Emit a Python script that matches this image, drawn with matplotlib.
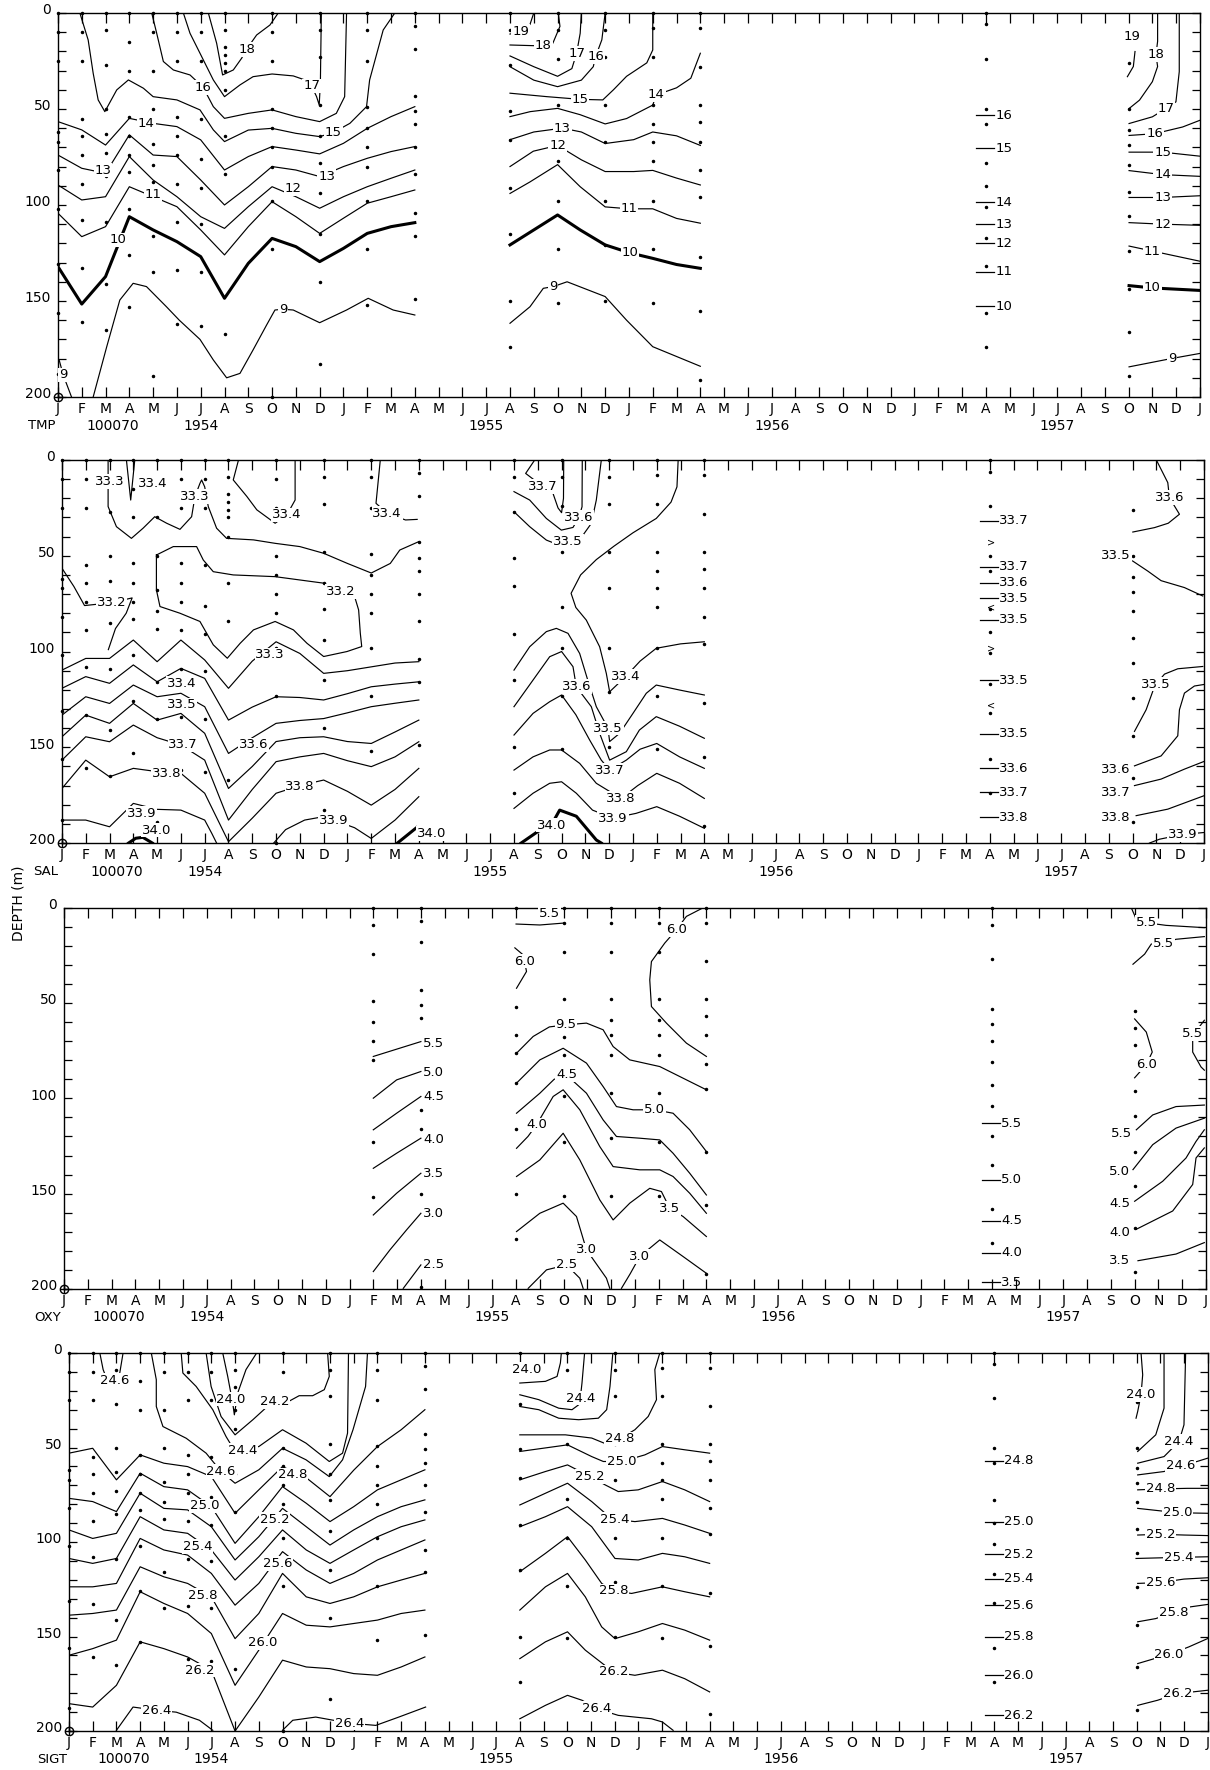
import matplotlib.pyplot as plt
from matplotlib.transforms import ScaledTranslation

plt.rcParams['font.family'] = ['DejaVu Sans']

MON = list('JFMAMJJASOND') * 4 + ['J']
YEARS = ['1954', '1955', '1956', '1957']
STATION = '100070'
m54 = list(range(16))  # Jan 1954 .. Apr 1955, month index

# sample depths at each station (month index -> depths)
st_months = [0, 1, 2, 3, 4, 5, 6, 7, 9, 11, 13, 15, 19, 21, 23, 25, 27, 39, 45]
st_depths = [
    [0, 10, 25, 62, 67, 82, 102, 131, 156, 188],
    [0, 10, 25, 55, 64, 74, 89, 108, 133, 161],
    [0, 9, 27, 50, 63, 73, 85, 109, 141, 165],
    [0, 15, 30, 54, 64, 74, 83, 102, 126, 153],
    [0, 10, 30, 50, 68, 79, 88, 116, 135, 189],
    [0, 10, 25, 54, 64, 74, 89, 109, 134, 162],
    [0, 10, 25, 55, 76, 91, 110, 135, 163],
    [0, 9, 18, 22, 26, 30, 40, 64, 84, 167],
    [0, 10, 25, 50, 60, 70, 80, 98, 123, 200],
    [0, 9, 23, 48, 64, 78, 94, 115, 140, 183],
    [0, 9, 25, 49, 60, 70, 80, 98, 123, 152],
    [0, 7, 19, 43, 51, 58, 70, 84, 104, 116, 149],
    [0, 9, 27, 51, 66, 91, 115, 150, 174],
    [0, 9, 24, 48, 77, 98, 123, 151],
    [0, 9, 23, 48, 67, 98, 121, 150],
    [0, 8, 23, 48, 58, 67, 77, 98, 123, 151],
    [0, 8, 28, 48, 57, 67, 82, 96, 127, 155, 191],
    [0, 6, 24, 50, 58, 78, 90, 101, 117, 132, 156, 174],
    [26, 50, 61, 69, 79, 93, 106, 124, 144, 166, 189],
]
oxy_months = [13, 15, 19, 21, 23, 25, 27, 39, 45]
oxy_depths = [
    [0, 9, 24, 49, 60, 70, 80, 123, 152],
    [0, 7, 18, 43, 51, 58, 106, 116, 150, 199],
    [0, 52, 67, 76, 92, 116, 150, 174],
    [0, 8, 23, 48, 68, 77, 99, 123, 151],
    [0, 8, 23, 48, 59, 67, 77, 97, 121, 151],
    [0, 8, 23, 48, 59, 67, 77, 97, 123, 151],
    [0, 8, 28, 48, 57, 67, 82, 95, 128, 156, 192],
    [0, 9, 27, 53, 61, 70, 81, 93, 104, 120, 135, 158, 176],
    [54, 63, 72, 96, 109, 128, 146, 168, 191],
]

# ---------------- TMP ----------------
tmp54_14 = [56.6, 60.9, 68.8, 54.9, 57.5, 59.2, 66.1, 81.8, 74.8, 69.6, 71.4, 73.4, 67.9, 60.1, 54.0, 48.8]
tmp54_13 = [74.0, 80.9, 83.5, 63.5, 74.0, 74.8, 87.0, 100.0, 90.5, 80.0, 81.8, 85.2, 80.0, 75.7, 72.2, 69.6]
tmp54_12 = [89.6, 97.4, 95.7, 74.8, 87.0, 95.7, 106.1, 112.2, 100.9, 90.5, 95.7, 101.7, 95.7, 90.5, 86.1, 81.8]
tmp54_11 = [104.3, 116.5, 111.3, 90.5, 95.7, 100.9, 113.0, 126.0, 111.3, 98.3, 106.1, 114.8, 106.9, 99.1, 95.7, 92.2]
tmp54_10 = [132.1, 151.6, 137.3, 106.1, 113.0, 119.1, 126.9, 148.6, 130.4, 117.4, 121.7, 129.5, 122.6, 114.8, 111.3, 109.2]
tmp54_15 = [(0.92, 0), (1.27, 14.1), (1.48, 31.4), (1.69, 45.3), (1.97, 51.4), (2.47, 40.1), (2.96, 34.9),
            (3.59, 39.2), (4.0, 43.6), (5.0, 45.3), (5.97, 50.5), (6.53, 60.9), (7.0, 67.0), (8.0, 61.0),
            (9.0, 60.1), (10.0, 62.7), (11.0, 64.4), (11.57, 62.3), (12.27, 57.5), (12.97, 48.8),
            (13.1, 34.9), (13.67, 8.9), (14.16, 0)]
tmp54_16 = [(3.94, 0), (4.15, 10.6), (4.43, 25.3), (4.85, 29.7), (5.55, 32.3), (6.1, 38.7), (6.53, 48.8),
            (7.0, 54.9), (8.0, 52.3), (9.0, 50.5), (10.0, 54.0), (11.0, 56.6), (11.7, 52.3), (12.05, 43.6),
            (12.13, 0)]
tmp54_17 = [(5.27, 0), (5.55, 10.6), (5.97, 21.0), (6.53, 34.9), (7.0, 43.6), (7.65, 37.5), (8.2, 33.2),
            (9.0, 31.8), (9.89, 32.8), (10.38, 34.9), (10.66, 38.0), (10.87, 43.6), (10.98, 47.9),
            (11.03, 36.6), (11.07, 0)]
tmp54_18 = [(6.32, 0), (6.67, 15.8), (6.92, 32.3), (7.37, 29.7), (7.72, 23.6), (7.93, 18.9), (8.35, 11.5),
            (8.91, 6.3), (9.26, 0)]
tmp54_9 = [(1.48, 200), (2.05, 173.8), (2.6, 149.5), (3.16, 140.8), (3.72, 142.5), (4.56, 153.0),
           (5.1, 160.0), (5.97, 170.0), (6.53, 180.7), (7.09, 190.0), (7.65, 187.7), (8.2, 175.5),
           (8.77, 162.5), (9.12, 154.7), (9.46, 154.3), (9.89, 154.7), (11.0, 161.3), (12.13, 154.7),
           (13.04, 148.6), (14.09, 154.7), (15.0, 157.3)]
tmp54_9b = [(0.05, 180.7), (0.22, 188.5), (0.57, 200)]

tmp55_19 = [(19.0, 11.0), (19.45, 9.7), (19.84, 6.0), (20.0, 0)]
tmp55_18 = [(19.0, 16.7), (20.4, 17.2), (20.8, 15.8), (21.1, 7.0), (21.03, 0)]
tmp55_17 = [(19.0, 22.4), (20.0, 28.0), (21.0, 33.0), (21.6, 29.0), (21.8, 21.0), (21.95, 10.6), (22.0, 0)]
tmp55_16 = [(19.0, 28.0), (20.0, 35.0), (21.0, 38.4), (22.0, 35.0), (22.5, 28.0), (22.6, 22.7), (22.86, 14.0), (23.0, 0)]
tmp55_15 = [(19.0, 41.8), (20.55, 43.6), (21.95, 45.0), (22.9, 45.3), (23.35, 40.0), (23.9, 33.0),
            (24.75, 26.0), (25.0, 19.3), (25.0, 0)]
tmp55_14 = [(19.0, 54.0), (19.85, 51.4), (21.0, 49.7), (21.95, 53.0), (23.0, 57.8), (23.9, 55.0),
            (25.0, 48.0), (25.15, 42.7), (26.0, 39.0), (26.6, 34.0), (27.0, 21.0)]
tmp55_13 = [(19, 66), (20, 62), (21.2, 60), (22, 62), (23, 68), (24.2, 66), (25, 62), (26, 64), (27, 69)]
tmp55_12 = [(19, 80), (19.98, 72), (21, 69), (22, 76.5), (23, 82.6), (24.2, 82.6), (25, 82), (26, 86), (27, 89.6)]
tmp55_11 = [(19, 94), (19.84, 88), (21, 79), (21.95, 90.5), (23, 101), (24, 102), (25, 102), (26, 107), (27, 109.5)]
tmp55_10 = [(19, 120.8), (21, 105.2), (21.95, 113), (23, 120.8), (24.05, 125), (25, 127.8), (26, 131), (27, 133)]
tmp55_9 = [(19, 161.6), (19.84, 153), (20.4, 143.4), (20.82, 142.5), (21.4, 140), (23, 147.7), (23.9, 160),
           (25, 173.8), (27, 184)]

tmp57_short = [53.3, 70.4, 98.7, 110.0, 120.0, 134.8, 152.8]
tmp57_short_lab = ['16', '15', '14', '13', '12', '11', '10']
tmp57_19 = [(44.95, 33.2), (45.2, 27.9), (45.27, 20.1)]
tmp57_18 = [(45.02, 49.8), (45.46, 45.4), (46.0, 35.8), (46.22, 27.9), (46.15, 21.8), (46.22, 14.8), (46.22, 0)]
tmp57_17 = [(45.02, 57.6), (46.0, 54.1), (46.57, 49.8), (46.99, 46.3), (47.13, 30.6), (47.13, 0)]
tmp57_16 = [(45.02, 63.8), (46.09, 62.9), (47.27, 59.4), (48, 55.9)]
tmp57_15 = [(45.02, 72.5), (46.43, 72.5), (48, 74.6)]
tmp57_14 = [(45.02, 82.1), (46.43, 84.2), (48, 85.1)]
tmp57_13 = [(45.02, 96.1), (46.43, 96.1), (48, 95.2)]
tmp57_12 = [(45.02, 109.2), (46.43, 110.0), (48, 110.6)]
tmp57_11 = [(45.02, 121.4), (46.0, 124.0), (48, 129.3)]
tmp57_10 = [(45.02, 142.0), (46.0, 143.2), (48, 144.5)]
tmp57_9 = [(45.02, 184.3), (46.83, 179.9), (48, 177.3)]

tmp_labels = [('18', 7.93, 18.9), ('17', 10.66, 38.0), ('16', 6.1, 38.7), ('15', 11.57, 62.3),
              ('14', 3.72, 57.5), ('13', 1.9, 81.8), ('13', 11.29, 85.2), ('12', 9.89, 91.3),
              ('11', 4.0, 94.8), ('10', 2.53, 118.2), ('9', 9.46, 154.3), ('9', 0.22, 188.5),
              ('19', 19.45, 9.7), ('18', 20.4, 17.2), ('17', 21.8, 21.0), ('16', 22.6, 22.7),
              ('15', 21.95, 45.0), ('14', 25.15, 42.7), ('13', 21.2, 60.0), ('12', 21.0, 69.0),
              ('11', 24.0, 102.0), ('10', 24.05, 125.0), ('9', 20.82, 142.5),
              ('19', 45.13, 12.2), ('18', 46.15, 21.8), ('17', 46.57, 49.8), ('16', 46.09, 62.9),
              ('15', 46.43, 72.5), ('14', 46.43, 84.2), ('13', 46.43, 96.1), ('12', 46.43, 110.0),
              ('11', 46.0, 124.0), ('10', 46.0, 143.2), ('9', 46.83, 179.9)]

# ---------------- SAL ----------------
sal54_333 = [109.7, 103.6, 103.6, 94.0, 105.3, 94.0, 104.4, 119.2, 105.0, 94.9, 101.0, 111.4, 110.0, 108.0, 106.0, 105.3]
sal54_334 = [119.2, 113.1, 116.6, 107.0, 115.8, 108.8, 114.0, 135.8, 129.0, 123.6, 124.0, 125.3, 122.0, 118.4, 117.0, 115.8]
sal54_335 = [133.2, 123.6, 127.1, 117.5, 123.6, 121.8, 128.8, 153.2, 145.0, 137.5, 136.0, 135.0, 132.0, 128.8, 127.0, 125.3]
sal54_336 = [144.5, 133.2, 137.5, 127.1, 135.8, 132.3, 142.7, 171.5, 160.0, 147.0, 145.0, 144.5, 147.0, 148.0, 142.0, 135.8]
sal54_337 = [156.7, 144.5, 147.1, 138.4, 145.0, 148.8, 156.7, 188.0, 172.0, 157.5, 155.0, 153.2, 157.0, 160.1, 155.0, 147.1]
sal54_338 = [171.5, 156.7, 165.4, 161.0, 162.7, 163.6, 174.0, 199.3, 187.0, 174.0, 170.0, 167.1, 173.0, 180.2, 172.0, 161.0]
sal54_339a = [(0, 188), (1, 188), (2, 191.5), (3, 179.3), (4, 182.4), (5, 182.8), (6, 188), (6.3, 195), (6.5, 200)]
sal54_339b = [(8.9, 200), (9.4, 193), (10.2, 188), (11.0, 186.2), (11.42, 188), (12.3, 192), (13.0, 197.6),
              (14.0, 188), (15.0, 175.8)]
sal54_340a = [(2.8, 200), (3.1, 197.5), (3.4, 197), (3.8, 200)]
sal54_340b = [(14.1, 200), (14.5, 196), (14.9, 192)]
sal54_332a = [(0, 56.5), (0.5, 66), (0.95, 76), (2.08, 74.5), (2.95, 72), (2.7, 80), (2.25, 88), (1.95, 99)]
sal54_332b = [(3.97, 49.6), (4.68, 45.2), (5.66, 45.2), (5.94, 52.2), (6.36, 58.3), (7.2, 60.0), (8.96, 60.9),
              (11.0, 64.3), (11.7, 68.7), (12.26, 69.6), (12.47, 78.3), (12.54, 90.4), (12.6, 97.4),
              (11.98, 100.0), (11.0, 102.6), (10.3, 95.7), (9.73, 88.7), (8.96, 84.3), (8.05, 88.7),
              (7.49, 95.7), (6.95, 103.5), (6.36, 96.5), (5.8, 84.3), (4.96, 80.0), (4.12, 76.5),
              (3.97, 67.8), (3.97, 49.6)]
sal54_333u = [(1.94, 0), (1.94, 12), (1.94, 24.3), (2.29, 34.8), (2.92, 40.9), (3.41, 35.6), (3.9, 29.6),
              (4.4, 33.0), (4.96, 36.2), (5.45, 29.6), (5.59, 19.1), (5.8, 12.2), (5.87, 10.4), (6.0, 14.0),
              (6.15, 24.3), (6.5, 35.6), (6.92, 40.9), (8.05, 41.7), (8.96, 43.5), (10.0, 45.2), (11.0, 48.7),
              (12.0, 54.0), (13.0, 59.0), (13.8, 54.0), (14.2, 47.0), (15.0, 42.6)]
sal54_334v = [(2.71, 0), (2.89, 20.9), (3.06, 0)]
sal54_334u = [(7.42, 0), (7.2, 10.4), (7.77, 19.0), (8.19, 26.0), (8.96, 33.0), (9.45, 28.7), (9.8, 20.9), (9.8, 0)]
sal54_334f = [(13.38, 0), (13.2, 22.6), (13.67, 27.8), (14.44, 31.3), (14.93, 31.0)]

sal55_337 = [(19.87, 0), (19.49, 7), (20.22, 13.9), (20.6, 16), (20.85, 25), (21.0, 27.5), (21.08, 20), (21.09, 0)]
sal55_336 = [(19, 16.5), (19.66, 20.9), (20.36, 30.5), (20.99, 36.6), (21.48, 35.2), (21.73, 29.9),
             (21.86, 24.4), (21.87, 0)]
sal55_335 = [(19, 27), (19.66, 34.8), (20.36, 41.8), (20.99, 44.9), (21.27, 42.6), (21.9, 39.2),
             (22.25, 33.1), (22.46, 20.9), (22.67, 0)]
sal55_334 = [(25.9, 0), (25.85, 14), (25.6, 22), (24.98, 30.5), (24.0, 38), (23.2, 45), (22.46, 52),
             (21.8, 60), (21.4, 69.6), (21.6, 77), (22.04, 83.6), (22.6, 97.5), (22.88, 111.4), (23.02, 121),
             (23.7, 113), (24.3, 105), (24.98, 98.3), (26.0, 96), (27.0, 94.9)]
sal55_335b = [(19, 109.7), (19.66, 97.5), (20.36, 89.6), (20.78, 87.9), (21.27, 90.5), (21.76, 101),
              (22.1, 114.9), (22.46, 128.8), (22.95, 140), (23.02, 147), (23.44, 142.7), (24, 132.3),
              (24.56, 121.8), (24.98, 117.5), (25.96, 120.1), (27, 122.7)]
sal55_336b = [(19, 128.8), (19.8, 114.9), (20.5, 102.7), (21, 100), (21.48, 107.9), (21.62, 118.4),
              (22.25, 128.8), (22.6, 142.7), (23.02, 156.7), (23.72, 152.3), (24.27, 141), (24.98, 134),
              (25.96, 139), (27, 145.3)]
sal55_337b = [(19, 143.6), (19.8, 132.3), (20.5, 126.2), (21, 122.7), (21.6, 133), (22.18, 146.2),
              (22.67, 156.7), (23.02, 161.9), (23.72, 156.7), (24.3, 151), (25, 148), (25.96, 155), (27, 161)]
sal55_338 = [(19, 161.9), (19.8, 155), (20.5, 151.4), (21, 151.4), (21.76, 158.4), (22.46, 168.8),
             (23.5, 176.7), (24.2, 170), (25, 163.6), (25.96, 168.8), (27, 176.7)]
sal55_339 = [(19, 181.9), (19.8, 174), (20.5, 168.8), (21, 168), (21.62, 174), (22.3, 182.8), (23.16, 187),
             (24.13, 184.5), (25, 181), (25.96, 186), (27, 192.3)]
sal55_340 = [(19.3, 200), (20.0, 194), (20.57, 190.6), (20.92, 182.8), (21.62, 186), (22.46, 198.4), (22.67, 200)]

sal57_short = [31.8, 55.7, 64.0, 72.3, 83.5, 115.0, 143.0, 161.0, 173.6, 186.6]
sal57_short_lab = ['33.7', '33.7', '33.6', '33.5', '33.5', '33.5', '33.5', '33.6', '33.7', '33.8']
sal57_marks = [('>', 43.1), ('<', 77.0), ('>', 98.4), ('<', 128.3)]
sal57_336 = [(46, 0), (46.48, 11.8), (46.55, 19.7), (46.97, 28.3), (46.5, 33), (45.92, 35.3), (45.01, 37.6)]
sal57_335a = [(45.0, 52.7), (45.64, 58), (46.2, 63), (47.18, 66.6), (47.95, 71)]
sal57_335b = [(47.95, 107.8), (46.9, 109), (46.34, 111.8), (45.99, 117), (45.92, 118.3), (45.57, 130.4), (45.08, 141.7)]
sal57_336b = [(45.08, 159.7), (46.2, 154.5), (46.9, 144), (46.97, 130.4), (47.18, 121.7), (47.6, 118), (48, 117.2)]
sal57_337 = [(45.08, 170), (46.2, 166.6), (47.18, 161.4), (48, 157.4)]
sal57_338 = [(45.15, 185.7), (46.48, 182.3), (48, 175.3)]
sal57_339 = [(45.71, 200), (46.13, 198), (47.11, 195.5), (48, 194.5)]

sal_labels = [('33.3', 2.0, 11.3), ('33.4', 3.83, 12.2), ('33.3', 5.59, 19.1), ('33.4', 9.45, 28.7),
              ('33.4', 13.67, 27.8), ('33.2', 2.08, 74.5), ('33.2', 11.7, 68.8), ('33.3', 8.75, 101.8),
              ('33.4', 5.03, 116.6), ('33.5', 5.03, 127.9), ('33.7', 5.1, 148.8), ('33.6', 8.05, 148.8),
              ('33.8', 4.4, 163.6), ('33.8', 10.01, 170.6), ('33.9', 3.34, 184.5), ('33.9', 11.42, 188.0),
              ('34.0', 3.97, 193.2), ('34.0', 15.55, 195.0),
              ('33.7', 20.22, 13.9), ('33.6', 21.73, 29.9), ('33.5', 21.27, 42.6), ('33.4', 23.7, 113.0),
              ('33.6', 21.62, 118.4), ('33.5', 22.95, 140.0), ('33.7', 23.02, 161.9), ('33.8', 23.5, 176.7),
              ('33.9', 23.16, 187.0), ('34.0', 20.57, 190.6),
              ('33.6', 46.55, 19.7), ('33.5', 44.3, 50.0), ('33.5', 45.99, 117.0), ('33.6', 44.3, 161.4),
              ('33.7', 44.3, 173.6), ('33.8', 44.3, 186.6), ('33.9', 47.11, 195.5)]

# ---------------- OXY ----------------
oxy55_short = {'5.5': [(13, 78), (15, 70.2)],
               '5.0': [(13, 99.9), (13.98, 90.3), (15, 85.9)],
               '4.5': [(13, 116.5), (13.98, 107.8), (15, 99)],
               '4.0': [(13, 136.7), (13.98, 128.8), (15, 120.9)],
               '3.5': [(13, 161.2), (13.98, 149.8), (15, 139.3)],
               '3.0': [(13, 190.9), (13.7, 179.5), (14.4, 169), (15, 160.3)],
               '2.5': [(14.26, 199.7), (15, 187.4)]}
oxy55_short_lab = [('5.5', 71), ('5.0', 86.4), ('4.5', 99), ('4.0', 121.4), ('3.5', 139.3), ('3.0', 160.3), ('2.5', 187.4)]
oxy55_55a = [(19, 8.5), (20, 9), (21, 8)]
oxy55_60a = [(18.95, 21), (19.3, 24.7), (19.44, 33.4), (19.02, 42.2)]
oxy55_60b = [(26.86, 0), (26.16, 4.5), (25.74, 11.5), (25.25, 18.5), (24.69, 28.2), (24.62, 37.8),
             (24.69, 51.8), (25.32, 60.5), (26.16, 71), (27, 78)]
oxy55_55 = [(19.02, 76.3), (19.72, 67.5), (20.4, 62.5), (21.1, 61.4), (21.96, 60.5), (22.66, 64),
            (23.08, 72.8), (23.78, 79.8), (25.04, 83.3), (26.02, 89.4), (27, 95.5)]
oxy55_50 = [(19.02, 92), (20, 79.8), (20.98, 73.7), (21.96, 81.5), (22.66, 93.8), (23.22, 104.3),
            (23.92, 106), (24.83, 106), (25.6, 107.8), (26.3, 116.5), (27, 127.9)]
oxy55_45 = [(19.02, 107.8), (20, 97.3), (20.6, 90), (21.12, 87.7), (21.96, 97.3), (22.66, 111.3),
            (23.22, 120), (24.2, 120.9), (25.04, 121.8), (25.6, 128.8), (26.3, 139.3), (27, 150.7)]
oxy55_40 = [(19.02, 126.2), (19.5, 120), (19.86, 113.9), (20.56, 99), (20.98, 95.5), (21.68, 106),
            (22.52, 125.3), (23.08, 135.8), (24.2, 137.5), (25.04, 137.5), (25.6, 141), (26.3, 149.8), (27, 160.3)]
oxy55_35 = [(19.02, 141), (20, 132.3), (20.98, 118.3), (21.68, 132.3), (22.52, 153.3), (23.08, 163.8),
            (23.78, 155), (24.62, 147.2), (25.11, 148.9), (25.46, 157.7), (26.02, 162), (27, 172.5)]
oxy55_30a = [(19.02, 169.9), (20, 160.3), (20.98, 155), (21.54, 162), (21.96, 179.5), (22.8, 194.4), (22.94, 199.7)]
oxy55_30b = [(23.43, 199.7), (23.8, 192), (24.2, 183), (25.04, 174.3), (26.02, 183), (27, 191.8)]
oxy55_25 = [(19.51, 199.7), (20.28, 190), (21.12, 187.4), (21.68, 194.4), (21.82, 199.7)]

oxy57_short = [113.0, 142.6, 164.3, 181.0, 196.5]
oxy57_short_lab = ['5.5', '5.0', '4.5', '4.0', '3.5']
oxy57_55a = [(44.86, 0), (45.07, 6), (45.48, 7.8), (46.32, 9.2), (47.93, 10.4)]
oxy57_55b = [(44.93, 29.6), (45.42, 24.3), (45.7, 19), (46.2, 18.6), (46.74, 16.5), (47.93, 15.1)]
oxy57_60 = [(45, 58.3), (45.49, 65.2), (45.74, 75.7), (45.49, 82.3), (45, 89.2)]
oxy57_55c = [(47.93, 59), (47.44, 67), (47.44, 75.7), (47.79, 83.5), (47.93, 85.2)]
oxy57_55d = [(45.07, 116.5), (45.76, 108.7), (46.74, 104.3), (47.93, 103.5)]
oxy57_50 = [(44.93, 137.4), (45.76, 124.3), (46.74, 115.6), (47.93, 110.4)]
oxy57_45 = [(45, 154), (46.18, 143.5), (47.16, 131.3), (47.58, 122.6), (47.93, 116.5)]
oxy57_40 = [(45.07, 168.7), (46.6, 159.1), (47.44, 145.2), (47.58, 131.3), (47.93, 126)]
oxy57_35 = [(45.14, 185.2), (46.74, 181.7), (47.93, 175.7)]

oxy_labels = [('5.5', 20.42, 2.8), ('6.0', 19.37, 28), ('6.0', 25.74, 11.5), ('9.5', 21.1, 61.4),
              ('5.0', 24.83, 106), ('4.5', 21.12, 87.7), ('4.0', 19.86, 113.9), ('3.5', 25.46, 157.7),
              ('3.0', 21.96, 179.5), ('3.0', 24.2, 183), ('2.5', 21.12, 187.4),
              ('5.5', 45.48, 7.8), ('5.5', 46.2, 18.6), ('6.0', 45.49, 82.3), ('5.5', 47.45, 66),
              ('5.5', 44.44, 118.3), ('5.0', 44.37, 138.6), ('4.5', 44.37, 155.3), ('4.0', 44.37, 170.4),
              ('3.5', 44.37, 185.2)]

# ---------------- SIGT ----------------
sig54_248 = [53.0, 50.4, 67.1, 53.9, 58.3, 60.1, 65.4, 84.8, 72.4, 60.1, 66.0, 76.0, 62.0, 49.5, 40.6, 30.0]
sig54_250 = [76.9, 78.6, 83.9, 63.6, 70.7, 72.4, 81.3, 100.7, 86.6, 70.7, 79.5, 89.2, 81.3, 72.4, 67.1, 61.8]
sig54_252 = [93.6, 98.1, 95.4, 74.2, 82.2, 83.0, 91.9, 109.5, 97.2, 82.2, 91.9, 101.6, 93.6, 86.6, 81.3, 77.7]
sig54_254 = [108.7, 111.3, 108.7, 86.6, 93.6, 95.4, 104.2, 120.1, 107.8, 93.6, 104.2, 111.3, 104.2, 97.2, 91.9, 88.3]
sig54_256 = [123.7, 123.7, 121.9, 98.1, 104.2, 106.9, 116.6, 133.4, 121.9, 105.1, 114.8, 121.9, 116.6, 109.5, 104.2, 98.9]
sig54_258 = [138.7, 137.8, 136.0, 113.1, 118.4, 121.9, 129.0, 151.1, 137.8, 116.6, 129.0, 132.5, 129.0, 123.7, 120.1, 116.6]
sig54_260 = [159.9, 156.4, 151.9, 126.3, 132.5, 137.8, 148.4, 175.8, 157.2, 137.8, 144.0, 144.9, 143.1, 141.3, 137.8, 136.0]
sig54_262 = [185.5, 187.3, 175.8, 152.8, 156.4, 160.8, 167.8, 200.0, 182.0, 162.5, 166.1, 167.0, 169.6, 170.5, 166.1, 160.8]
sig54_246a = [(1.3, 0), (1.44, 8.8), (1.58, 13.3), (1.93, 15.5), (2.14, 10.6), (2.28, 0)]
sig54_240 = [(6.48, 0), (6.69, 12.4), (6.9, 26.5), (6.97, 32.7), (7.11, 21.2), (7.46, 8.8), (7.91, 0)]
sig54_242 = [(5.78, 0), (5.99, 17.7), (6.41, 33.6), (7.0, 43.3), (7.75, 35.3), (8.3, 29.0), (9.0, 27.4),
             (9.7, 22.6), (10.27, 22.6), (10.76, 19.4), (10.97, 12.4), (10.9, 0)]
sig54_244 = [(4.73, 0), (4.8, 10.6), (5.36, 17.7), (6.06, 30.0), (6.62, 44.2), (7.0, 52.1), (8.0, 49.5),
             (9.0, 40.6), (9.99, 47.7), (10.97, 57.4), (11.53, 53.0), (11.74, 42.4), (11.78, 0)]
sig54_246 = [(3.47, 0), (3.68, 14.1), (3.68, 28.3), (3.96, 38.9), (4.94, 45.1), (5.78, 53.0), (6.41, 62.7),
             (7.0, 68.9), (8.0, 61.8), (9.0, 50.4), (9.99, 56.5), (10.97, 65.4), (11.53, 56.5),
             (11.97, 40.6), (12.5, 17.7), (12.58, 0)]
sig54_264a = [(2.0, 199.6), (2.7, 187.3), (3.68, 189.0), (4.52, 190.0), (5.5, 194.3), (6.06, 199.6)]
sig54_264b = [(9.0, 199.6), (9.43, 194.3), (10.4, 192.6), (11.81, 195.8), (12.93, 197.0), (13.9, 192.6), (15.03, 187.3)]

sig55_240 = [(19, 15.9), (20.08, 15), (20.57, 12.4), (20.71, 5.3), (20.75, 0)]
sig55_244 = [(19, 22.1), (19.8, 24.7), (20.64, 29.2), (21.2, 30), (21.48, 27.4), (21.55, 23.9), (21.62, 15.9), (21.73, 0)]
sig55_246 = [(19, 28.3), (19.8, 30), (20.64, 34.5), (21.48, 35.3), (22.31, 34.5), (22.66, 30), (22.8, 17.7), (22.92, 0)]
sig55_248 = [(19, 43.3), (20.92, 43.3), (22.03, 45), (22.73, 48.6), (23.2, 45.5), (23.85, 40.6), (24.41, 33.6),
             (24.76, 24.7), (24.69, 8.8), (24.9, 0)]
sig55_250 = [(19, 52.1), (21.01, 48.6), (22.03, 54.8), (22.52, 57.4), (23.3, 57.4), (24.27, 53.9), (25.01, 49.5),
             (25.95, 51.2), (27, 53)]
sig55_252 = [(19, 67.1), (20.08, 62.7), (21.01, 59.2), (21.97, 65.4), (22.6, 69.8), (23.15, 73.3), (23.99, 72.4),
             (25.01, 68), (25.95, 72.4), (27, 78.6)]
sig55_254 = [(19, 80.4), (20.08, 74.2), (21.01, 68.9), (22.03, 78.6), (22.6, 84.8), (23.01, 88), (23.85, 89.2),
             (25.01, 87.5), (25.95, 91), (27, 95.4)]
sig55_256 = [(19, 91.9), (20.08, 86.6), (21.01, 81.3), (22.03, 91.9), (23.01, 108.7), (23.99, 109.5),
             (25.01, 106), (25.95, 107.8), (27, 111.3)]
sig55_258 = [(19, 115.7), (20.08, 106), (21.01, 97.2), (21.76, 109.5), (22.45, 121.9), (22.94, 125.8),
             (23.71, 127.2), (25.01, 123.7), (25.95, 126.3), (27, 129)]
sig55_260 = [(19, 136), (20.08, 123.7), (21.01, 116.6), (21.76, 129), (22.45, 144.9), (23.01, 151.1),
             (23.99, 147.5), (25.01, 143.1), (25.95, 146.6), (27, 151.9)]
sig55_262 = [(19, 161.7), (20.08, 152.8), (21.01, 147.5), (21.76, 157.2), (22.94, 168.7), (23.85, 170.5),
             (25.01, 167.8), (25.95, 172.3), (27, 179.3)]
sig55_264 = [(19, 193.5), (20.08, 186.4), (21.01, 181.1), (21.62, 183.7), (22.24, 188.2), (23.15, 191.7),
             (24.55, 193.5), (25.01, 195.2), (25.46, 199.6)]

sig57_short = [57.0, 89.2, 106.5, 119.3, 133.4, 150.2, 170.5, 191.7]
sig57_short_lab = ['24.8', '25.0', '25.2', '25.4', '25.6', '25.8', '26.0', '26.2']
sig57_240 = [(45.18, 0), (45.25, 11.5), (45.18, 22.1), (45.04, 30.9), (44.97, 34.5)]
sig57_242 = [(46.15, 0), (46.15, 29.2), (45.8, 43.3), (45.04, 52.1)]
sig57_244 = [(47.06, 0), (46.99, 38.0), (46.78, 46.8), (46.15, 54.8), (45.04, 58.3)]
sig57_246 = [(45.04, 64.5), (46.15, 62.7), (46.85, 59.5), (47.54, 57.4), (48, 55.6)]
sig57_248 = [(45.04, 72.4), (46.01, 71.9), (47.13, 71.6), (48, 71.6)]
sig57_250 = [(45.04, 82.2), (46.71, 84.5), (48, 84.8)]
sig57_252 = [(45.04, 96.3), (46.01, 95.9), (46.99, 96.3), (48, 96.6)]
sig57_254 = [(44.97, 108.7), (46.78, 108.1), (48, 107.8)]
sig57_256 = [(45.04, 121.9), (46.01, 121.4), (46.99, 119.6), (48, 118.9)]
sig57_258 = [(45.04, 142.2), (45.8, 140.5), (46.57, 137.3), (47.26, 134.3), (48, 133)]
sig57_260 = [(45.04, 164.3), (45.74, 161.7), (46.36, 159.5), (47.19, 155.5), (48, 151)]
sig57_262 = [(45.04, 186.4), (45.88, 183.7), (46.71, 180.2), (48, 178.4)]

sig_labels = [('24.6', 1.93, 14.5), ('24.0', 6.83, 24.4), ('24.2', 8.66, 25.6), ('24.4', 7.3, 51.6),
              ('24.6', 6.41, 62.7), ('24.8', 9.43, 64.5), ('25.0', 5.71, 80.9), ('25.2', 8.66, 88.0),
              ('25.4', 5.43, 102.5), ('25.6', 8.8, 111.3), ('25.8', 5.64, 128.1), ('26.0', 8.17, 153.4),
              ('26.2', 5.5, 167.8), ('26.4', 3.68, 189.0), ('26.4', 11.81, 195.8),
              ('24.0', 19.31, 8.5), ('24.4', 21.55, 23.9), ('24.8', 23.2, 45.5), ('25.0', 23.3, 57.4),
              ('25.2', 21.97, 65.4), ('25.4', 23.01, 88.0), ('25.8', 22.94, 125.8), ('26.2', 22.94, 168.7),
              ('26.4', 22.24, 188.2),
              ('24.0', 45.18, 22.1), ('24.4', 46.78, 46.8), ('24.6', 46.85, 59.5), ('24.8', 46.01, 71.9),
              ('25.0', 46.71, 84.5), ('25.2', 46.01, 95.9), ('25.4', 46.78, 108.1), ('25.6', 46.01, 121.4),
              ('25.8', 46.57, 137.3), ('26.0', 46.36, 159.5), ('26.2', 46.71, 180.2)]


def curve(ax, pts, thick=False):
    ax.plot([p[0] for p in pts], [p[1] for p in pts], color='black',
            lw=2.2 if thick else 0.85, solid_joinstyle='round', zorder=2)


def table(ax, depths, thick=False):
    ax.plot(m54, depths, color='black', lw=2.2 if thick else 0.85, solid_joinstyle='round', zorder=2)


def labels(ax, labs, size=9.5):
    for s, x, d in labs:
        ax.text(x, d, s, ha='center', va='center', fontsize=size, zorder=4,
                bbox=dict(boxstyle='square,pad=0.06', fc='white', ec='none'))


def short_ticks(ax, month, depths, labs):
    for d, s in zip(depths, labs):
        ax.plot([month - 0.4, month + 0.35], [d, d], color='black', lw=0.9, zorder=2)
        ax.text(month + 0.4, d, s, ha='left', va='center', fontsize=9.5, zorder=4)


def dots(ax, months, depths):
    for m, ds in zip(months, depths):
        ax.plot([m] * len(ds), ds, 'o', color='black', ms=1.5, zorder=3, clip_on=False)


def frame(ax, name):
    ax.set_xlim(0, 48)
    ax.set_ylim(200, 0)
    ax.set_xticks(range(49))
    ax.set_xticklabels([])
    ax.set_yticks([0, 50, 100, 150, 200])
    ax.set_yticks(range(0, 201, 10), minor=True)
    ax.tick_params(axis='x', direction='in', length=7, width=0.9, top=True, bottom=True)
    ax.tick_params(axis='y', which='both', direction='in', length=6, width=0.9, left=True, right=True,
                   labelsize=10, pad=5)
    # plotter labels sit a little above their tick
    shift = ScaledTranslation(0, 3 / 72, ax.figure.dpi_scale_trans)
    for lab in ax.get_yticklabels():
        lab.set_transform(lab.get_transform() + shift)
    for sp in ax.spines.values():
        sp.set_linewidth(1.0)
    tr = ax.get_xaxis_transform()
    for i, c in enumerate(MON):
        ax.text(i, -0.032, c, transform=tr, ha='center', va='center', fontsize=10)
    for k, y in enumerate(YEARS):
        ax.text(6 + 12 * k, -0.075, y, transform=tr, ha='center', va='center', fontsize=10)
    ax.text(-0.7, -0.075, name, transform=tr, ha='center', va='center', fontsize=9.5)
    ax.text(2.3, -0.075, STATION, transform=tr, ha='center', va='center', fontsize=10)
    ax.plot(0, 200, 'o', mfc='none', mec='black', ms=6, clip_on=False, zorder=5)
    ax.plot(0, 200, '+', color='black', ms=6, clip_on=False, zorder=5)


fig = plt.figure(figsize=(12.1, 17.7), dpi=100)
ax1 = fig.add_axes([0.0479, 0.7757, 0.9438, 0.2170])
ax2 = fig.add_axes([0.0512, 0.5237, 0.9438, 0.2164])
ax3 = fig.add_axes([0.0529, 0.2718, 0.9438, 0.2153])
ax4 = fig.add_axes([0.0570, 0.0220, 0.9413, 0.2136])

# TMP
for dd in [tmp54_14, tmp54_13, tmp54_12, tmp54_11]:
    table(ax1, dd)
table(ax1, tmp54_10, thick=True)
for pts in [tmp54_15, tmp54_16, tmp54_17, tmp54_18, tmp54_9, tmp54_9b,
            tmp55_19, tmp55_18, tmp55_17, tmp55_16, tmp55_15, tmp55_14, tmp55_13, tmp55_12, tmp55_11, tmp55_9,
            tmp57_19, tmp57_18, tmp57_17, tmp57_16, tmp57_15, tmp57_14, tmp57_13, tmp57_12, tmp57_11, tmp57_9]:
    curve(ax1, pts)
curve(ax1, tmp55_10, thick=True)
curve(ax1, tmp57_10, thick=True)
short_ticks(ax1, 39, tmp57_short, tmp57_short_lab)
dots(ax1, st_months, st_depths)
labels(ax1, tmp_labels)
frame(ax1, 'TMP')

# SAL
for dd in [sal54_333, sal54_334, sal54_335, sal54_336, sal54_337, sal54_338]:
    table(ax2, dd)
for pts in [sal54_339a, sal54_339b, sal54_332a, sal54_332b, sal54_333u, sal54_334v, sal54_334u, sal54_334f,
            sal55_337, sal55_336, sal55_335, sal55_334, sal55_335b, sal55_336b, sal55_337b, sal55_338, sal55_339,
            sal57_336, sal57_335a, sal57_335b, sal57_336b, sal57_337, sal57_338, sal57_339]:
    curve(ax2, pts)
for pts in [sal54_340a, sal54_340b, sal55_340]:
    curve(ax2, pts, thick=True)
short_ticks(ax2, 39, sal57_short, sal57_short_lab)
for s, d in sal57_marks:
    ax2.text(39.05, d, s, ha='center', va='center', fontsize=7)
dots(ax2, st_months, st_depths)
labels(ax2, sal_labels)
frame(ax2, 'SAL')

# OXY
for lev, pts in oxy55_short.items():
    curve(ax3, pts)
for s, d in oxy55_short_lab:
    ax3.text(15.1, d, s, ha='left', va='center', fontsize=9.5, zorder=4)
for pts in [oxy55_55a, oxy55_60a, oxy55_60b, oxy55_55, oxy55_50, oxy55_45, oxy55_40, oxy55_35,
            oxy55_30a, oxy55_30b, oxy55_25,
            oxy57_55a, oxy57_55b, oxy57_60, oxy57_55c, oxy57_55d, oxy57_50, oxy57_45, oxy57_40, oxy57_35]:
    curve(ax3, pts)
short_ticks(ax3, 39, oxy57_short, oxy57_short_lab)
dots(ax3, oxy_months, oxy_depths)
labels(ax3, oxy_labels)
frame(ax3, 'OXY')

# SIGT
for dd in [sig54_248, sig54_250, sig54_252, sig54_254, sig54_256, sig54_258, sig54_260, sig54_262]:
    table(ax4, dd)
for pts in [sig54_246a, sig54_240, sig54_242, sig54_244, sig54_246, sig54_264a, sig54_264b,
            sig55_240, sig55_244, sig55_246, sig55_248, sig55_250, sig55_252, sig55_254, sig55_256,
            sig55_258, sig55_260, sig55_262, sig55_264,
            sig57_240, sig57_242, sig57_244, sig57_246, sig57_248, sig57_250, sig57_252, sig57_254,
            sig57_256, sig57_258, sig57_260, sig57_262]:
    curve(ax4, pts)
short_ticks(ax4, 39, sig57_short, sig57_short_lab)
dots(ax4, st_months, st_depths)
labels(ax4, sig_labels)
frame(ax4, 'SIGT')

fig.text(0.0149, 1 - 903 / 1770, 'DEPTH (m)', rotation=90, ha='center', va='center', fontsize=10)

fig.savefig('out.png', dpi=100)
